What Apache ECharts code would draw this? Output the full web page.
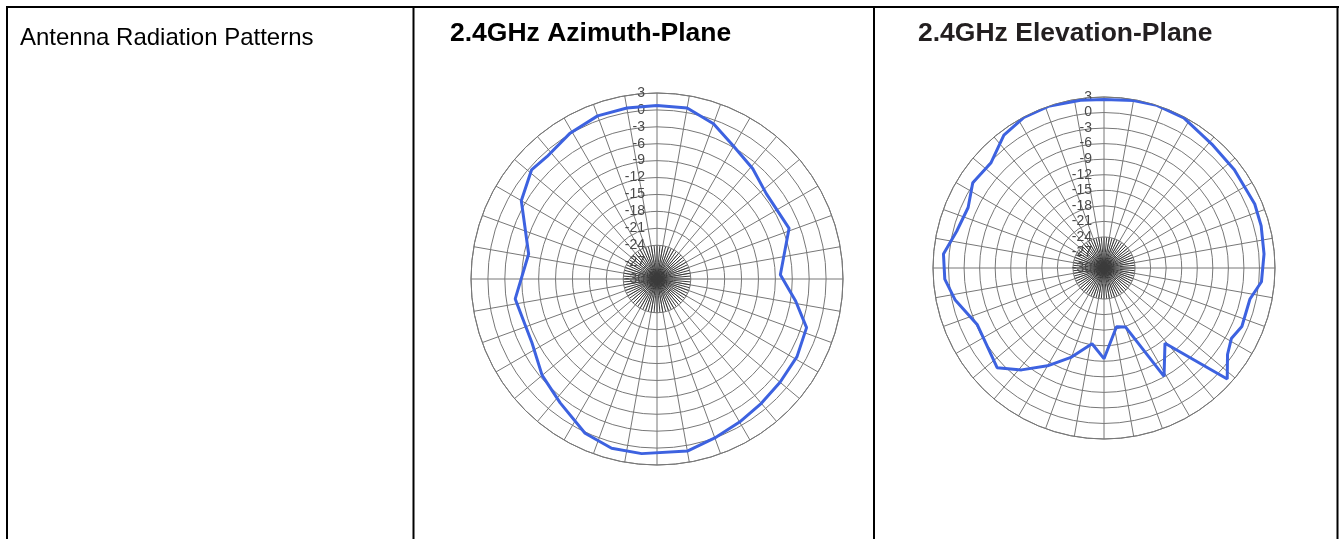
<!DOCTYPE html>
<html>
<head>
<meta charset="utf-8">
<style>
  html, body { margin: 0; padding: 0; background: #fff; }
  #main { width: 1341px; height: 539px; }
</style>
<script src="https://cdn.jsdelivr.net/npm/echarts@6/dist/echarts.min.js"></script>
</head>
<body>
<div id="main"></div>
<script>
// radial scale of both plots, dB (centre .. rim)
var dbTicks = [-30, -27, -24, -21, -18, -15, -12, -9, -6, -3, 0, 3];

// 2.4GHz azimuth plane: angle (deg, clockwise from top) / gain (dB)
var azAngles = [0, 10, 20, 30, 41, 52, 69, 88, 99, 108, 119, 130, 140, 150, 160, 170, 185, 195, 205, 218, 230, 243, 262, 281, 300, 311, 318, 329, 340, 350];
var azGain   = [0.8, 0.8, -0.7, -2.8, -4.1, -5.4, -4.9, -8.1, -5.1, -2.1, -1.6, -1.5, -1.2, -0.7, 0, 1.0, 1.1, 1.1, 0.2, -2.1, -3.4, -5.1, -4.6, -6.8, -2.2, -0.5, -0.8, 0.1, 0.8, 0.8];

// 2.4GHz elevation plane
var elAngles = [0, 10, 18, 28, 41, 53, 67, 75, 85, 95, 102, 113, 119, 125, 132, 141, 151, 160, 168, 180, 189, 200, 210, 219, 227, 246, 258, 266, 275, 284, 294, 303, 313, 323, 332, 341, 352];
var elGain   = [2.5, 2.8, 3.0, 2.8, 1.7, 1.5, 1.6, 1.4, 1.0, 0.5, -1.2, -1.1, -1.9, -0.9, 2.0, -11.3, -6.1, -17.9, -18.4, -12.5, -15.2, -11.7, -8.2, -4.7, -1.8, -3.2, -0.6, 0.8, 1.1, -0.7, -1.3, 0.2, -0.2, 2.1, 2.9, 3.0, 2.7];

var titles = ['Antenna Radiation Patterns', '2.4GHz Azimuth-Plane', '2.4GHz Elevation-Plane'];

var fontName = "'Liberation Sans', Arial, sans-serif";
var gridColor = '#777';
var dbMin = dbTicks[0];
var dbMax = dbTicks[dbTicks.length - 1];
var dbStep = dbTicks[1] - dbTicks[0];

function toPolar(angles, gains) {
	var out = [];
	for (var i = 0; i < angles.length; i++) {
		out.push([gains[i], angles[i]]);
	}
	out.push([gains[0], 360]); // close the pattern
	return out;
}

// main grid: rings every 3 dB, spokes every 10 deg
function mainAxes(idx, gap) {
	return {
		angle: {
			polarIndex: idx,
			type: 'value', min: 0, max: 360, interval: 10,
			startAngle: 90, clockwise: true,
			z: 1,
			axisLine: { lineStyle: { color: gridColor, width: 1 } },
			axisTick: { show: false },
			axisLabel: { show: false },
			splitLine: { lineStyle: { color: gridColor, width: 1 } }
		},
		radius: {
			polarIndex: idx,
			type: 'value', min: dbMin, max: dbMax, interval: dbStep,
			z: 4,
			axisLine: { show: false },
			axisTick: { show: false },
			axisLabel: {
				margin: gap,
				color: '#4a4a4a',
				fontFamily: fontName,
				fontSize: 14
			},
			splitLine: { lineStyle: { color: gridColor, width: 1 } }
		}
	};
}

// dense spokes near the centre
function starAxes(idx) {
	return {
		angle: {
			polarIndex: idx,
			type: 'value', min: 0, max: 360, interval: 5,
			startAngle: 90,
			z: 1,
			axisLine: { show: false },
			axisTick: { show: false },
			axisLabel: { show: false },
			splitLine: { lineStyle: { color: '#3a3a3a', width: 1 } }
		},
		radius: {
			polarIndex: idx,
			type: 'value', min: 0, max: 1,
			z: 1,
			axisLine: { show: false },
			axisTick: { show: false },
			axisLabel: { show: false },
			splitLine: { show: false }
		}
	};
}

var axA = mainAxes(0, 12), axE = mainAxes(1, 12), stA = starAxes(2), stE = starAxes(3);

var myChart = echarts.init(document.getElementById('main'));
var option = {
	animation: false,
	title: [{
		text: titles[0], left: 20, top: 26, padding: 0,
		textStyle: { fontFamily: fontName, fontSize: 24, fontWeight: 'normal', color: '#000' }
	}, {
		text: titles[1], left: 450, top: 20, padding: 0,
		textStyle: { fontFamily: fontName, fontSize: 26.5, fontWeight: 'bold', color: '#000' }
	}, {
		text: titles[2], left: 918, top: 20, padding: 0,
		textStyle: { fontFamily: fontName, fontSize: 26.5, fontWeight: 'bold', color: '#231f20' }
	}],
	polar: [
		{ center: [657, 279], radius: 186 },
		{ center: [1104, 268], radius: 171 },
		{ center: [657, 279], radius: 34 },
		{ center: [1104, 268], radius: 31 }
	],
	angleAxis: [axA.angle, axE.angle, stA.angle, stE.angle],
	radiusAxis: [axA.radius, axE.radius, stA.radius, stE.radius],
	series: [{
		name: titles[1],
		type: 'line',
		coordinateSystem: 'polar',
		polarIndex: 0,
		symbol: 'none',
		lineStyle: { color: '#3d62e0', width: 3 },
		data: toPolar(azAngles, azGain),
		z: 5
	}, {
		name: titles[2],
		type: 'line',
		coordinateSystem: 'polar',
		polarIndex: 1,
		symbol: 'none',
		lineStyle: { color: '#3d62e0', width: 3 },
		data: toPolar(elAngles, elGain),
		z: 5
	}],
	// table borders
	graphic: [
		{ type: 'line', shape: { x1: 6, y1: 7, x2: 1339, y2: 7 }, style: { stroke: '#000', lineWidth: 2 } },
		{ type: 'line', shape: { x1: 7, y1: 6, x2: 7, y2: 539 }, style: { stroke: '#000', lineWidth: 2 } },
		{ type: 'line', shape: { x1: 413.5, y1: 6, x2: 413.5, y2: 539 }, style: { stroke: '#000', lineWidth: 2 } },
		{ type: 'line', shape: { x1: 874, y1: 6, x2: 874, y2: 539 }, style: { stroke: '#000', lineWidth: 2 } },
		{ type: 'line', shape: { x1: 1337.5, y1: 6, x2: 1337.5, y2: 539 }, style: { stroke: '#000', lineWidth: 2 } }
	]
};
myChart.setOption(option);
</script>
</body>
</html>
